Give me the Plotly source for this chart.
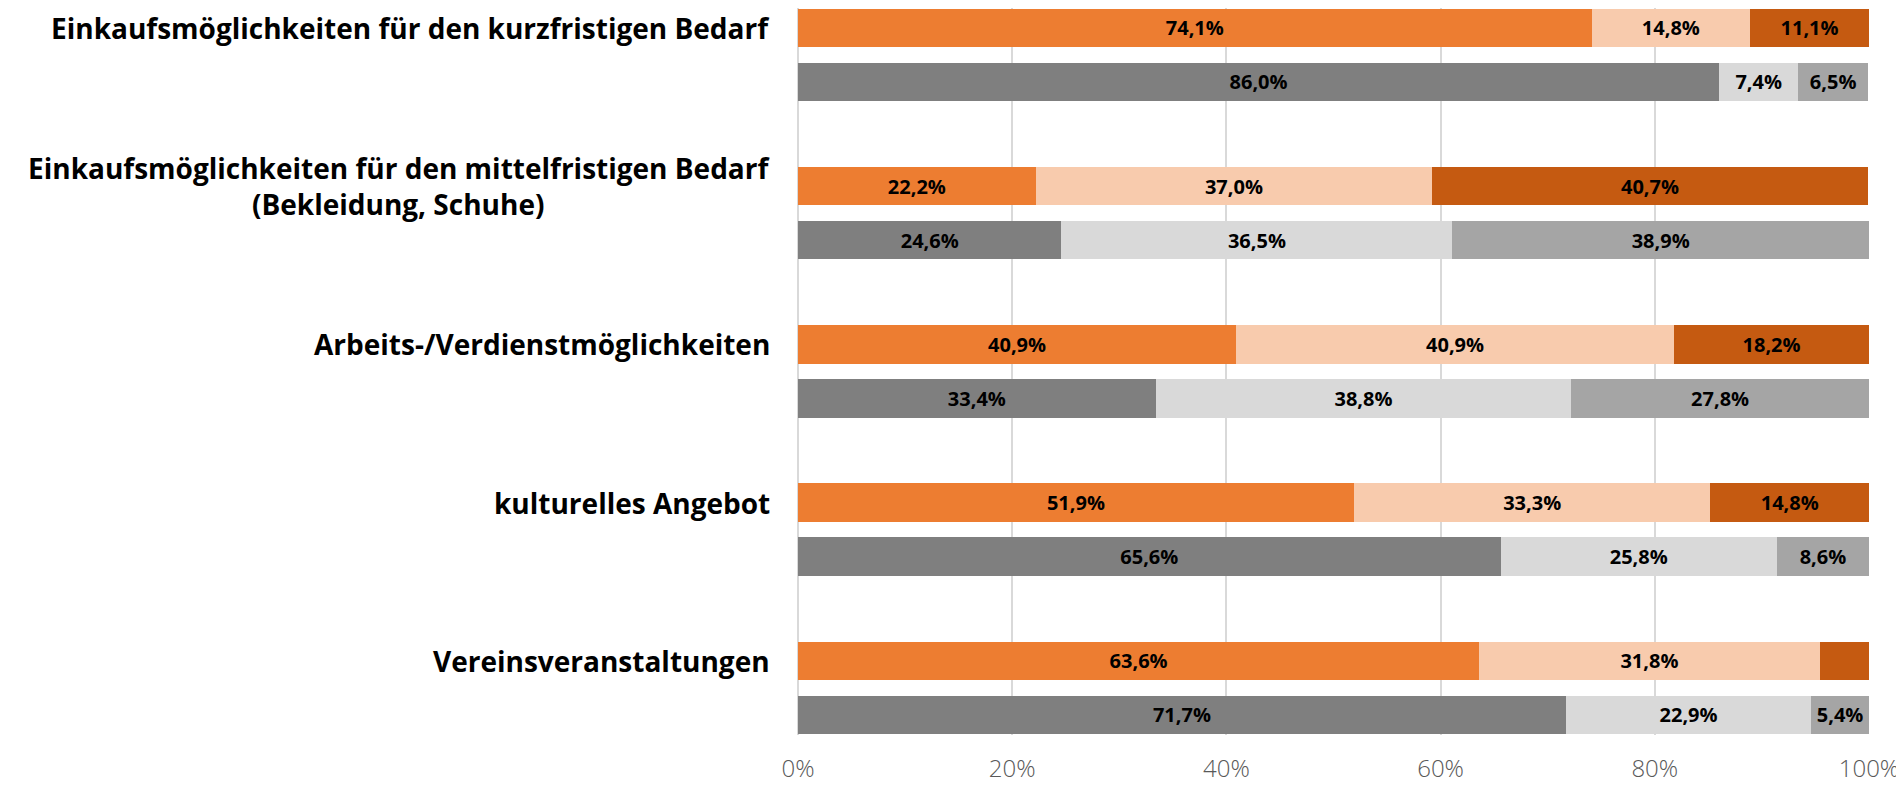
import plotly.graph_objects as go

categories = [
    "Einkaufsmöglichkeiten für den kurzfristigen Bedarf",
    "Einkaufsmöglichkeiten für den mittelfristigen Bedarf<br>(Bekleidung, Schuhe)",
    "Arbeits-/Verdienstmöglichkeiten",
    "kulturelles Angebot",
    "Vereinsveranstaltungen",
]

# orange row (upper bar of each pair), three segments
orange_1 = [74.1, 22.2, 40.9, 51.9, 63.6]
orange_2 = [14.8, 37.0, 40.9, 33.3, 31.8]
orange_3 = [11.1, 40.7, 18.2, 14.8, 4.6]

# grey row (lower bar of each pair), three segments
grey_1 = [86.0, 24.6, 33.4, 65.6, 71.7]
grey_2 = [7.4, 36.5, 38.8, 25.8, 22.9]
grey_3 = [6.5, 38.9, 27.8, 8.6, 5.4]

x_ticks = [0, 20, 40, 60, 80, 100]

orange_colors = ["#ED7D31", "#F8CBAD", "#C55A11"]
grey_colors = ["#7F7F7F", "#D9D9D9", "#A5A5A5"]

FONT = "Open Sans"
pos_orange = list(range(len(categories)))
pos_grey = [p + 0.341 for p in pos_orange]


def fmt(values):
    return [f"{v:.1f}%".replace(".", ",") if v >= 5 else "" for v in values]


fig = go.Figure()
for vals, col in zip([orange_1, orange_2, orange_3], orange_colors):
    fig.add_trace(go.Bar(
        x=vals, y=pos_orange, orientation="h", width=0.243,
        marker=dict(color=col, line=dict(width=0)),
        text=fmt(vals), textposition="inside", insidetextanchor="middle",
        textfont=dict(family=FONT, size=20, color="black", weight="bold"),
        constraintext="none", showlegend=False,
    ))
for vals, col in zip([grey_1, grey_2, grey_3], grey_colors):
    fig.add_trace(go.Bar(
        x=vals, y=pos_grey, orientation="h", width=0.243,
        marker=dict(color=col, line=dict(width=0)),
        text=fmt(vals), textposition="inside", insidetextanchor="middle",
        textfont=dict(family=FONT, size=20, color="black", weight="bold"),
        constraintext="none", showlegend=False,
    ))

for cat, p in zip(categories, pos_orange):
    fig.add_annotation(
        x=0, xref="paper", y=p, yref="y", text=cat, showarrow=False,
        xanchor="right", yanchor="middle", align="center", xshift=-26,
        font=dict(family=FONT, size=28, color="black", weight="bold"),
    )

# the page body adds an 8px offset, so margins are shifted to compensate
fig.update_layout(
    barmode="stack",
    width=1904, height=785,
    margin=dict(l=790, r=43, t=0, b=58),
    plot_bgcolor="white", paper_bgcolor="white",
    uniformtext=dict(mode="show", minsize=8),
    xaxis=dict(
        range=[0, 100], tickvals=x_ticks, ticktext=[f"{t}%" for t in x_ticks],
        showgrid=True, gridcolor="#D9D9D9", gridwidth=1.5,
        zeroline=True, zerolinecolor="#D9D9D9", zerolinewidth=1.5,
        tickfont=dict(family=FONT, size=24, color="#595959", weight=300),
        ticklabelstandoff=17, fixedrange=True,
    ),
    yaxis=dict(
        range=[4.468, -0.126], showticklabels=False, showgrid=False,
        zeroline=False, fixedrange=True,
    ),
)

fig.write_html("out.html")
